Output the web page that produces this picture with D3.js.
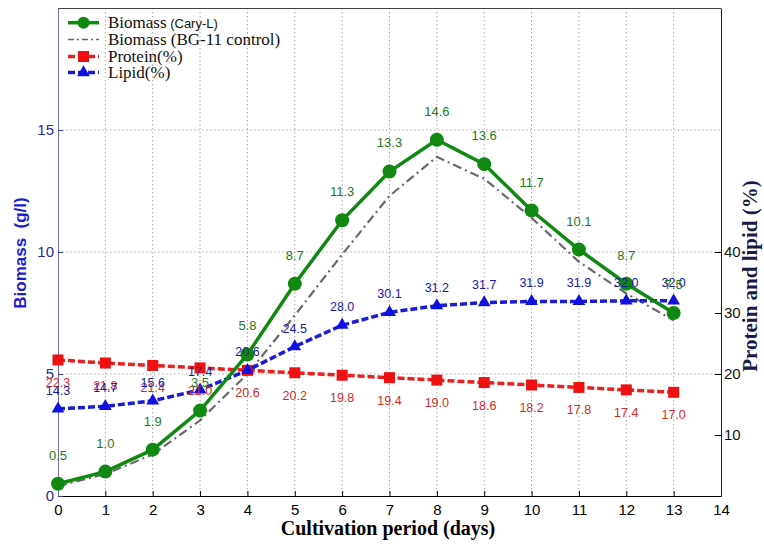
<!DOCTYPE html>
<html><head><meta charset="utf-8">
<script src="https://cdn.jsdelivr.net/npm/d3@7"></script>
<style>body{margin:0;background:#fff}svg{display:block}</style>
</head><body><svg id="c" width="764" height="544"></svg>
<script>
const days = [0,1,2,3,4,5,6,7,8,9,10,11,12,13];
const biomassCary = [0.5,1.0,1.9,3.5,5.8,8.7,11.3,13.3,14.6,13.6,11.7,10.1,8.7,7.5];
const biomassBG11 = [0.4,0.9,1.7,3.1,5.0,7.4,9.9,12.3,13.9,13.0,11.4,9.6,8.3,7.2];
const protein = [22.3,21.8,21.4,21.0,20.6,20.2,19.8,19.4,19.0,18.6,18.2,17.8,17.4,17.0];
const lipid = [14.3,14.7,15.6,17.4,20.6,24.5,28.0,30.1,31.2,31.7,31.9,31.9,32.0,32.0];
const xTicks = d3.range(0,15);
const leftTicks = [0,5,10,15];
const rightTicks = [10,20,30,40];

const svg = d3.select('#c');
const L=58, R=721, T=8, B=496;
const x = d3.scaleLinear().domain([0,14]).range([L,R]);
const yL = d3.scaleLinear().domain([0,20]).range([B,T]);
const yR = d3.scaleLinear().domain([0,80]).range([B,T]);

// grid
const g = svg.append('g');
g.selectAll('.vg').data(xTicks.filter(d=>d>0&&d<14)).enter().append('line')
 .attr('x1',d=>x(d)).attr('x2',d=>x(d)).attr('y1',T).attr('y2',B)
 .attr('stroke','#a8a8a8').attr('stroke-width',1).attr('stroke-dasharray','1.5,2.5');
g.selectAll('.hg').data([5,10,15]).enter().append('line')
 .attr('x1',L).attr('x2',R).attr('y1',d=>yL(d)).attr('y2',d=>yL(d))
 .attr('stroke','#a8a8a8').attr('stroke-width',1).attr('stroke-dasharray','1.5,2.5');

// border top
svg.append('line').attr('x1',L).attr('x2',R).attr('y1',T+0.5).attr('y2',T+0.5).attr('stroke','#444');

// axes
const xAx = svg.append('g').attr('transform',`translate(0,${B})`)
 .call(d3.axisBottom(x).tickValues(xTicks).tickFormat(d3.format('d')).tickSizeInner(-5).tickSizeOuter(0).tickPadding(8));
xAx.select('.domain').attr('stroke','#000');
xAx.selectAll('text').attr('font-family','Liberation Sans, Arial').attr('font-size',15).attr('fill','#000');

const yAxL = svg.append('g').attr('transform',`translate(${L},0)`)
 .call(d3.axisLeft(yL).tickValues(leftTicks).tickSizeInner(-5).tickSizeOuter(0).tickPadding(4));
yAxL.select('.domain').attr('stroke','#6f6fb8');
yAxL.selectAll('.tick line').attr('stroke','#3a3a9a');
yAxL.selectAll('text').attr('font-family','Liberation Sans, Arial').attr('font-size',15).attr('fill','#2a2aa0');

const yAxR = svg.append('g').attr('transform',`translate(${R},0)`)
 .call(d3.axisRight(yR).tickValues(rightTicks).tickSizeInner(-6).tickSizeOuter(0).tickPadding(3));
yAxR.select('.domain').attr('stroke','#222');
yAxR.selectAll('text').attr('font-family','Liberation Sans, Arial').attr('font-size',15).attr('fill','#111');

// titles
svg.append('text').attr('x',388).attr('y',535).attr('text-anchor','middle')
 .attr('font-family','Liberation Serif, Times New Roman').attr('font-weight','bold').attr('font-size',20)
 .text('Cultivation period (days)');
svg.append('text').attr('transform','translate(26,253) rotate(-90)').attr('text-anchor','middle')
 .attr('font-family','Liberation Sans, Arial').attr('font-weight','bold').attr('font-size',17).attr('fill','#1c1cd0')
 .attr('xml:space','preserve').text('Biomass  (g/l)');
svg.append('text').attr('transform','translate(757,276) rotate(-90)').attr('text-anchor','middle')
 .attr('font-family','Liberation Serif, Times New Roman').attr('font-weight','bold').attr('font-size',21).attr('fill','#1a1a48')
 .text('Protein and lipid (%)');

// series
const lineL = vals => d3.line().x((d,i)=>x(days[i])).y(d=>yL(d))(vals);
const lineR = vals => d3.line().x((d,i)=>x(days[i])).y(d=>yR(d))(vals);

svg.append('path').attr('d',lineL(biomassBG11)).attr('fill','none').attr('stroke','#6a6a6a')
 .attr('stroke-width',2.2).attr('stroke-dasharray','9,4,2,4');

svg.append('path').attr('d',lineR(protein)).attr('fill','none').attr('stroke','#e82020')
 .attr('stroke-width',3.5).attr('stroke-dasharray','7,3');
svg.selectAll('.ps').data(protein).enter().append('rect')
 .attr('x',(d,i)=>x(days[i])-5.5).attr('y',d=>yR(d)-5.5).attr('width',11).attr('height',11).attr('fill','#ee1111');

svg.append('path').attr('d',lineR(lipid)).attr('fill','none').attr('stroke','#1a1ad8')
 .attr('stroke-width',3.5).attr('stroke-dasharray','7,3');
svg.selectAll('.lt').data(lipid).enter().append('path')
 .attr('d',d3.symbol().type(d3.symbolTriangle).size(70))
 .attr('transform',(d,i)=>`translate(${x(days[i])},${yR(d)})`).attr('fill','#1010e0');

svg.append('path').attr('d',lineL(biomassCary)).attr('fill','none').attr('stroke','#118811').attr('stroke-width',3.5);
svg.selectAll('.gc').data(biomassCary).enter().append('circle')
 .attr('cx',(d,i)=>x(days[i])).attr('cy',d=>yL(d)).attr('r',7).attr('fill','#118811');

// data labels
const lab = (vals, sc, dy, col, fs) => svg.append('g').selectAll('text').data(vals).enter().append('text')
 .attr('x',(d,i)=>x(days[i])).attr('y',d=>sc(d)+dy).attr('text-anchor','middle')
 .attr('font-family','Liberation Sans, Arial').attr('font-size',fs).attr('fill',col)
 .text(d=>d.toFixed(1));
lab(protein, yR, 27, '#d42a2a', 12.5);
lab(lipid, yR, -14, '#1a1aa8', 12.5);
lab(biomassCary, yL, -24, '#1f7a1f', 13);

// legend
const leg = svg.append('g');
const rows = [22.7,39.5,56.5,72.5];
const lx1=68, lx2=99, tx=108;
leg.append('line').attr('x1',lx1).attr('x2',lx2).attr('y1',rows[0]).attr('y2',rows[0]).attr('stroke','#118811').attr('stroke-width',3.5);
leg.append('circle').attr('cx',(lx1+lx2)/2).attr('cy',rows[0]).attr('r',6).attr('fill','#118811');
leg.append('line').attr('x1',lx1).attr('x2',lx2).attr('y1',rows[1]).attr('y2',rows[1]).attr('stroke','#6a6a6a').attr('stroke-width',1.6).attr('stroke-dasharray','6,3,2,3');
leg.append('line').attr('x1',lx1).attr('x2',lx2).attr('y1',rows[2]).attr('y2',rows[2]).attr('stroke','#e82020').attr('stroke-width',3.5).attr('stroke-dasharray','7,3');
leg.append('rect').attr('x',(lx1+lx2)/2-5.5).attr('y',rows[2]-5.5).attr('width',11).attr('height',11).attr('fill','#ee1111');
leg.append('line').attr('x1',lx1).attr('x2',lx2).attr('y1',rows[3]).attr('y2',rows[3]).attr('stroke','#1a1ad8').attr('stroke-width',3.5).attr('stroke-dasharray','7,3');
leg.append('path').attr('d',d3.symbol().type(d3.symbolTriangle).size(70)).attr('transform',`translate(${(lx1+lx2)/2},${rows[3]})`).attr('fill','#1010e0');
const legTexts = ['Biomass','Biomass (BG-11 control)','Protein(%)','Lipid(%)'];
legTexts.forEach((t,i)=>{
  const te = leg.append('text').attr('x',tx).attr('y',rows[i]+5.5)
   .attr('font-family','Liberation Serif, Times New Roman').attr('font-size',17).attr('fill','#111').text(t);
  if(i===0){ te.append('tspan').attr('font-family','Liberation Sans, Arial').attr('font-size',13).text(' (Cary-L)'); }
});
</script></body></html>
